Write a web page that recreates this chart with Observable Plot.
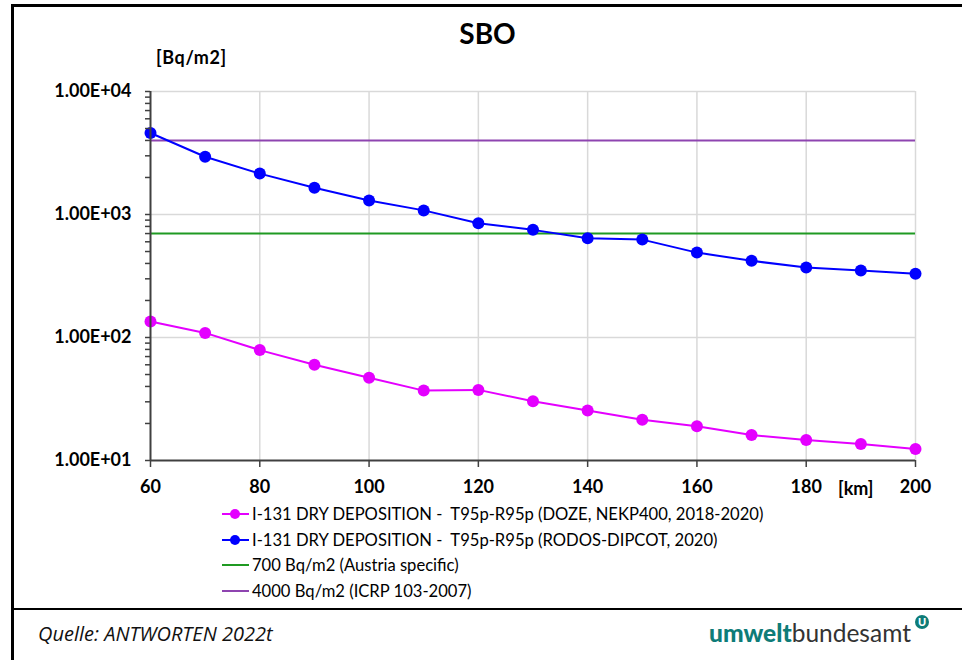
<!DOCTYPE html>
<html>
<head>
<meta charset="utf-8">
<script src="https://cdn.jsdelivr.net/npm/d3@7"></script>
<script src="https://cdn.jsdelivr.net/npm/@observablehq/plot@0.6"></script>
<style>
  html, body { margin: 0; padding: 0; background: #fff; }
  #page { position: relative; width: 962px; height: 660px; overflow: hidden; font-family: Lato, "Open Sans", sans-serif; color: #000; }
  #page > svg { position: absolute; left: 0; top: 0; }
  .frame-top { position: absolute; left: 11px; top: 4px; width: 951px; height: 3px; background: #000; }
  .frame-left { position: absolute; left: 11px; top: 4px; width: 3px; height: 656px; background: #000; }
  .frame-sep { position: absolute; left: 11px; top: 608px; width: 951px; height: 2px; background: #000; }
  .title { position: absolute; left: 0; width: 975px; top: 16px; text-align: center; font-weight: 700; font-size: 28px; }
  .unit { position: absolute; left: 156px; top: 46px; font-weight: 700; font-size: 18px; letter-spacing: 0.6px; }
  .km { position: absolute; left: 838px; top: 477px; font-weight: 700; font-size: 18px; }
  .legend { position: absolute; left: 222px; top: 501px; font-size: 16.6px; color: #000; }
  .legend .row { display: flex; align-items: center; height: 25.7px; white-space: pre; }
  .legend .swatch { display: block; margin-right: 3px; }
  .source { position: absolute; left: 38px; top: 620px; font-family: "Open Sans", sans-serif; font-style: italic; font-size: 20px; color: #111; }
  .logo { position: absolute; left: 709px; top: 618px; font-family: Lato, sans-serif; font-size: 24.5px; color: #333; white-space: nowrap; }
  .logo b { color: #0e7c78; font-weight: 900; }
  .logo .mark { position: absolute; left: 205px; top: -4px; }
</style>
</head>
<body>
<div id="page"></div>
<script>
// Distance from the plant [km]
const distanceKm = [60, 70, 80, 90, 100, 110, 120, 130, 140, 150, 160, 170, 180, 190, 200];
// I-131 dry deposition, T95p-R95p, DOZE (NEKP400, 2018-2020) [Bq/m2]
const dozeDeposition = [135, 109, 79, 60, 47, 37, 37.5, 30.3, 25.5, 21.4, 19, 16.1, 14.7, 13.6, 12.4];
// I-131 dry deposition, T95p-R95p, RODOS-DIPCOT (2020) [Bq/m2]
const rodosDeposition = [4600, 2950, 2150, 1650, 1300, 1080, 850, 750, 640, 625, 490, 420, 370, 350, 330];
// Reference levels [Bq/m2]
const levelAustria = 700;
const levelICRP = 4000;

const xTicks = [60, 80, 100, 120, 140, 160, 180, 200];
const yDecades = [10, 100, 1000, 10000];
const yTickLabels = ["1.00E+01", "1.00E+02", "1.00E+03", "1.00E+04"];
const yMinorTicks = [10, 100, 1000].flatMap(d => [2, 3, 4, 5, 6, 7, 8, 9].map(k => k * d));

const seriesNames = [
  "I-131 DRY DEPOSITION -  T95p-R95p (DOZE, NEKP400, 2018-2020)",
  "I-131 DRY DEPOSITION -  T95p-R95p (RODOS-DIPCOT, 2020)",
  "700 Bq/m2 (Austria specific)",
  "4000 Bq/m2 (ICRP 103-2007)"
];
const seriesColors = ["#e400ff", "#0000ff", "#1f9a22", "#8e44b0"];
const seriesMarkers = [true, true, false, false];

const doze = distanceKm.map((km, i) => ({km, value: dozeDeposition[i]}));
const rodos = distanceKm.map((km, i) => ({km, value: rodosDeposition[i]}));
const labelOf = new Map(yDecades.map((d, i) => [d, yTickLabels[i]]));

const axisColor = "#404040";
const gridColor = "#d9d9d9";

const chart = Plot.plot({
  width: 962,
  height: 520,
  marginLeft: 150,
  marginRight: 47,
  marginTop: 91,
  marginBottom: 60,
  style: {fontFamily: "Lato, sans-serif", color: "#000", background: "transparent"},
  x: {domain: [60, 200]},
  y: {type: "log", domain: [10, 10000]},
  marks: [
    Plot.gridX(xTicks.slice(1), {stroke: gridColor, strokeOpacity: 1, strokeWidth: 1.5}),
    Plot.gridY(yDecades.slice(1), {stroke: gridColor, strokeOpacity: 1, strokeWidth: 1.5}),
    Plot.ruleY([levelICRP], {stroke: seriesColors[3], strokeWidth: 2}),
    Plot.ruleY([levelAustria], {stroke: seriesColors[2], strokeWidth: 2}),
    Plot.line(doze, {x: "km", y: "value", stroke: seriesColors[0], strokeWidth: 2}),
    Plot.dot(doze, {x: "km", y: "value", r: 6, fill: seriesColors[0]}),
    Plot.line(rodos, {x: "km", y: "value", stroke: seriesColors[1], strokeWidth: 2}),
    Plot.dot(rodos, {x: "km", y: "value", r: 6, fill: seriesColors[1]}),
    Plot.axisY(yMinorTicks, {tickSize: 5, tickFormat: () => "", label: null, stroke: axisColor, strokeWidth: 1.5}),
    Plot.axisY(yDecades, {
      tickSize: 5, tickPadding: 14, tickFormat: d => labelOf.get(d), label: null,
      stroke: axisColor, strokeWidth: 1.5, fontSize: 18, fontWeight: 700, fill: "#000"
    }),
    Plot.axisX(xTicks, {
      tickSize: 7, tickPadding: 13, label: null, stroke: axisColor, strokeWidth: 1.5,
      fontSize: 18, fontWeight: 700, fill: "#000"
    }),
    Plot.ruleX([60], {stroke: axisColor, strokeWidth: 2}),
    Plot.ruleY([10], {stroke: axisColor, strokeWidth: 2})
  ]
});

const page = document.getElementById("page");
page.appendChild(chart);

function addDiv(cls, html) {
  const el = document.createElement("div");
  el.className = cls;
  if (html != null) el.innerHTML = html;
  page.appendChild(el);
  return el;
}

addDiv("frame-top");
addDiv("frame-left");
addDiv("frame-sep");
addDiv("title", "SBO");
addDiv("unit", "[Bq/m2]");
addDiv("km", "[km]");

const legend = addDiv("legend");
seriesNames.forEach((name, i) => {
  const row = document.createElement("div");
  row.className = "row";
  const marker = seriesMarkers[i] ? `<circle cx="13" cy="6" r="5" fill="${seriesColors[i]}"/>` : "";
  row.innerHTML = `<svg class="swatch" width="27" height="12"><line x1="0" x2="27" y1="6" y2="6" stroke="${seriesColors[i]}" stroke-width="2"/>${marker}</svg><span></span>`;
  row.querySelector("span").textContent = name;
  legend.appendChild(row);
});

addDiv("source", "Quelle: ANTWORTEN 2022t");
addDiv("logo", `<b>umwelt</b>bundesamt<svg class="mark" width="16" height="16"><circle cx="8" cy="8" r="7" fill="#0e7c78"/><text x="8" y="12" text-anchor="middle" font-size="11" font-weight="900" fill="#fff" font-family="Lato, sans-serif">U</text></svg>`);
</script>
</body>
</html>
